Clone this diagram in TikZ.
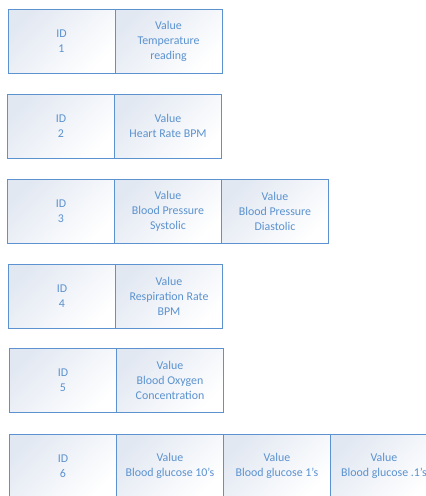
\documentclass[tikz,border=0pt]{standalone}
\usepackage{fontspec}
\setmainfont{Carlito}
\usetikzlibrary{positioning}
\definecolor{cellblue}{HTML}{5B92CF}
\definecolor{cellshade}{HTML}{E2E8F2}
\tikzset{
	cell/.style={draw=cellblue, line width=0.9pt, text=cellblue, align=center,
		minimum width=107pt, minimum height=64pt, inner sep=0pt, outer sep=0pt,
		top color=cellshade, bottom color=white, shading angle=45,
		font=\fontsize{11.9}{15}\selectfont}
}
\begin{document}
\begin{tikzpicture}[x=1pt,y=-1pt]
	\clip (0,0) rectangle (426,496);

	\node[cell] (id1) at (61.5,41) {ID\\1};
	\node[cell, right=0pt of id1] (val1) {Value\\Temperature\\reading};

	\node[cell] (id2) at (61,126) {ID\\2};
	\node[cell, right=0pt of id2] (val2) {Value\\Heart Rate BPM};

	\node[cell] (id3) at (61,211) {ID\\3};
	\node[cell, right=0pt of id3] (sys3) {Value\\Blood Pressure\\Systolic};
	\node[cell, right=0pt of sys3] (dia3) {Value\\Blood Pressure\\Diastolic};

	\node[cell] (id4) at (62,296) {ID\\4};
	\node[cell, right=0pt of id4] (val4) {Value\\Respiration Rate\\BPM};

	\node[cell] (id5) at (63,380.5) {ID\\5};
	\node[cell, right=0pt of id5] (val5) {Value\\Blood Oxygen\\Concentration};

	\node[cell] (id6) at (63,466) {ID\\6};
	\node[cell, right=0pt of id6] (tens6) {Value\\Blood glucose 10's};
	\node[cell, right=0pt of tens6] (ones6) {Value\\Blood glucose 1's};
	\node[cell, right=0pt of ones6] (tenth6) {Value\\Blood glucose .1's};

\end{tikzpicture}
\end{document}
